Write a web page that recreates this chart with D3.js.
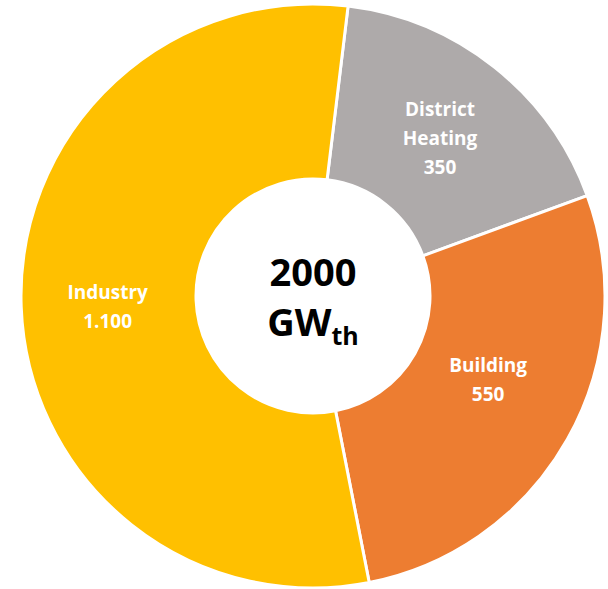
<!DOCTYPE html>
<html>
<head>
<meta charset="utf-8">
<script src="https://cdn.jsdelivr.net/npm/d3@7"></script>
<style>
  body { margin: 0; background: #fff; }
  svg text { font-family: "Open Sans", "DejaVu Sans", sans-serif; font-weight: bold; }
</style>
</head>
<body>
<div id="chart"></div>
<script>
// data
const categories = ["District Heating", "Building", "Industry"];
const values = [350, 550, 1100];
const valueLabels = ["350", "550", "1.100"];
const labelLines = [["District", "Heating"], ["Building"], ["Industry"]];
const colors = ["#AEAAAA", "#ED7D31", "#FFC000"];
const totalLabel = "2000";
const unitMain = "GW";
const unitSub = "th";

const width = 608, height = 589;
const cx = 313, cy = 296;
const outerR = 292, innerR = 117;
const startRot = 6.9 * Math.PI / 180;

// small nudges for label placement, like excel does
const labelNudge = {"Building": [-3, -17], "District Heating": [0, 3], "Industry": [-1, 3]};

const svg = d3.select("#chart")
    .append("svg")
    .attr("width", width)
    .attr("height", height);

const g = svg.append("g")
    .attr("transform", "translate(" + cx + "," + cy + ")");

const data = categories.map((c, i) => ({category: c, value: values[i], label: valueLabels[i], lines: labelLines[i], color: colors[i]}));

const pie = d3.pie()
    .value(d => d.value)
    .sort(null)
    .startAngle(startRot)
    .endAngle(startRot + 2 * Math.PI);

const arc = d3.arc()
    .innerRadius(innerR)
    .outerRadius(outerR);

const arcs = pie(data);

g.selectAll(".slice")
    .data(arcs)
    .enter().append("path")
    .attr("class", "slice")
    .attr("d", arc)
    .style("fill", d => d.data.color)
    .style("stroke", "#fff")
    .style("stroke-width", 3);

// slice labels
const fontSize = 19, lineH = 29;
arcs.forEach(a => {
    const c = arc.centroid(a);
    const nudge = labelNudge[a.data.category] || [0, 0];
    const lines = a.data.lines.concat([a.data.label]);
    const top = c[1] + nudge[1] - (lines.length - 1) * lineH / 2;
    const t = g.append("text")
        .attr("text-anchor", "middle")
        .attr("fill", "#fff")
        .style("font-size", fontSize + "px");
    lines.forEach((l, i) => {
        t.append("tspan")
            .attr("x", c[0] + nudge[0])
            .attr("y", top + i * lineH)
            .attr("dy", "0.35em")
            .text(l);
    });
});

// center total
g.append("text")
    .attr("text-anchor", "middle")
    .attr("y", -10)
    .style("font-size", "38px")
    .attr("fill", "#000")
    .text(totalLabel);

const unit = g.append("text")
    .attr("text-anchor", "middle")
    .attr("y", 40)
    .style("font-size", "38px")
    .attr("fill", "#000");
unit.append("tspan").text(unitMain);
unit.append("tspan")
    .attr("dy", 9)
    .style("font-size", "25px")
    .text(unitSub);
</script>
</body>
</html>
